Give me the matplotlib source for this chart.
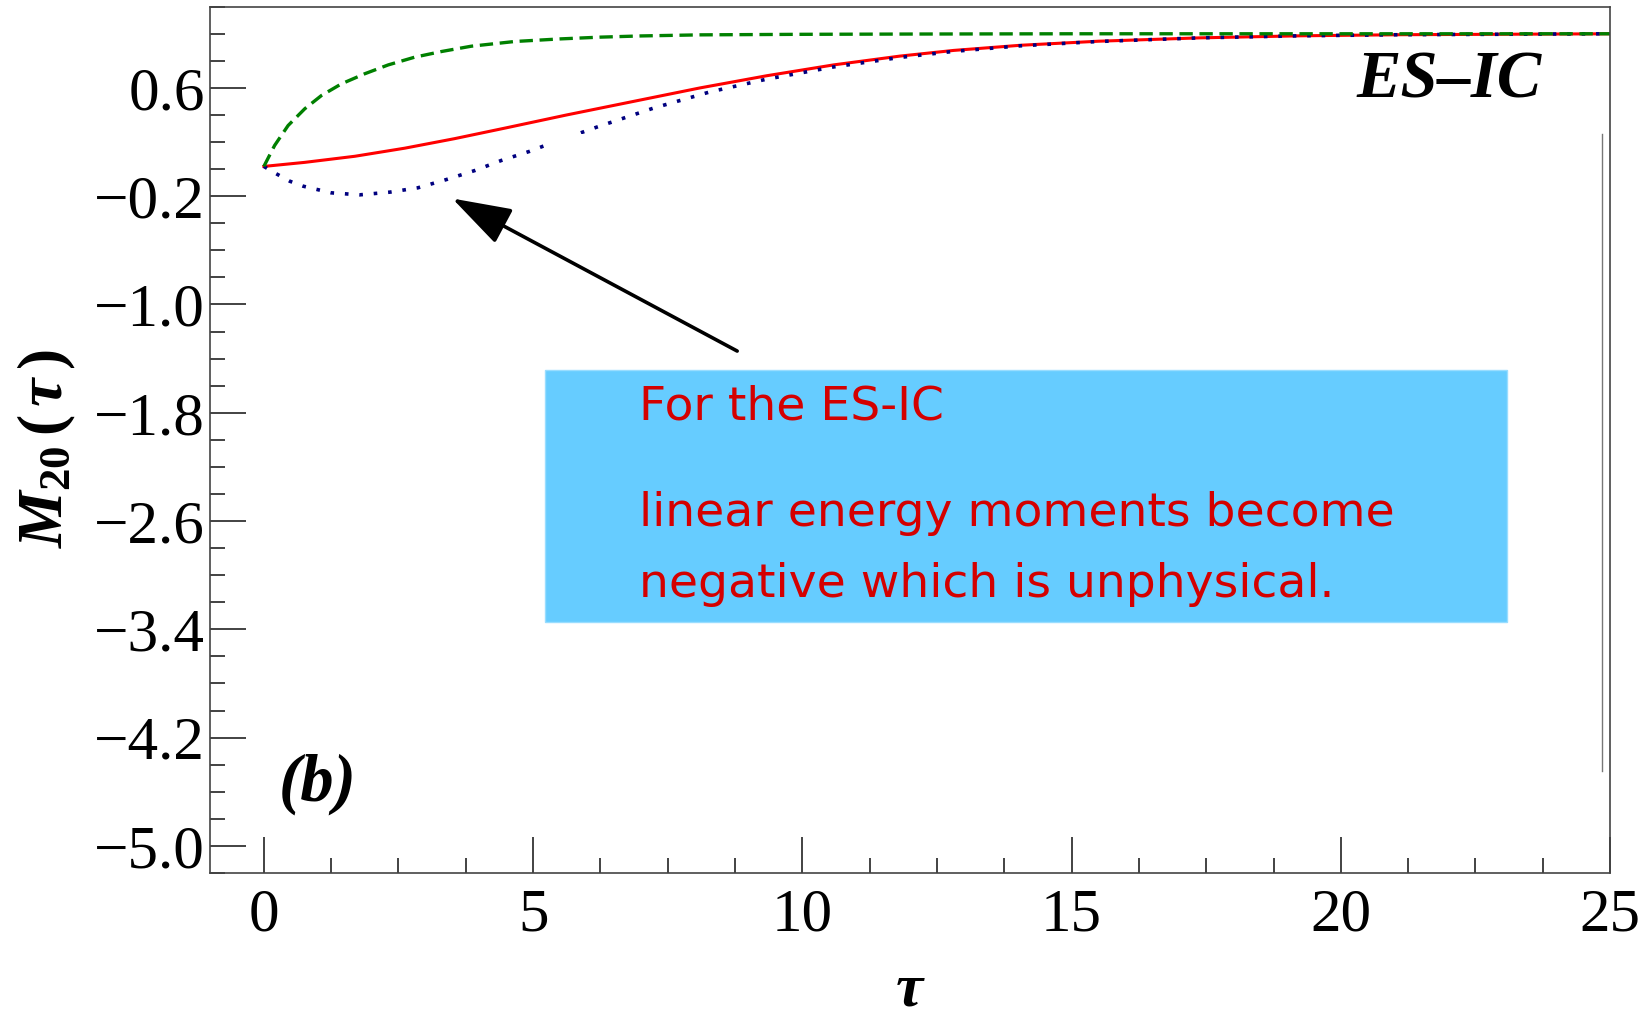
import matplotlib
matplotlib.use("Agg")
import matplotlib.pyplot as plt
from matplotlib.ticker import MultipleLocator, FixedLocator, FuncFormatter
from matplotlib.patches import Rectangle

plt.rcParams['font.family'] = 'Liberation Serif'
plt.rcParams['mathtext.fontset'] = 'custom'
plt.rcParams['mathtext.it'] = 'Liberation Serif:bold:italic'
plt.rcParams['mathtext.rm'] = 'Liberation Serif:bold'
plt.rcParams['mathtext.bf'] = 'Liberation Serif:bold'

# значения
tau_green = [0, 0.2, 0.45, 0.76, 1.07, 1.44, 1.87, 2.31, 2.8, 3.3, 3.85, 4.66, 5.5, 6.24, 7.0, 8.1,
             10.0, 12.0, 15.0, 25.0]
m_green = [0.02, 0.175, 0.322, 0.446, 0.544, 0.63, 0.704, 0.77, 0.827, 0.869, 0.908, 0.943, 0.962,
           0.975, 0.984, 0.992, 0.996, 0.998, 1.0, 1.0]

tau_red = [0, 0.76, 1.69, 2.62, 3.54, 4.5, 5.62, 6.86, 8.1, 9.34, 10.58, 11.81, 12.81, 14.05, 15.5,
           17.4, 19.25, 21.1, 25.0]
m_red = [0.02, 0.05, 0.095, 0.155, 0.225, 0.305, 0.40, 0.50, 0.60, 0.69, 0.77, 0.835, 0.877,
         0.915, 0.945, 0.97, 0.985, 0.993, 1.0]

tau_blue = [0, 0.23, 0.48, 0.73, 1.25, 1.78, 2.34, 2.86, 3.39, 3.92, 4.41, 4.94, 5.19, 6.18, 7.23,
            8.28, 9.34, 10.58, 11.81, 12.81, 14.05, 15.5, 17.4, 19.25, 21.1, 25.0]
m_blue = [0.02, -0.034, -0.089, -0.126, -0.175, -0.19, -0.17, -0.138, -0.077, -0.01, 0.064, 0.132,
          0.17, 0.31, 0.45, 0.57, 0.665, 0.755, 0.825, 0.87, 0.911, 0.943, 0.97, 0.985, 0.993, 1.0]

x_ticks = [0, 5, 10, 15, 20, 25]
y_ticks = [-5.0, -4.2, -3.4, -2.6, -1.8, -1.0, -0.2, 0.6]

note_lines = ["For the ES-IC", "linear energy moments become", "negative which is unphysical."]
note_y = [-1.85, -2.64, -3.16]

fig = plt.figure(figsize=(16.51, 10.15), dpi=100)
ax = fig.add_axes([0.1272, 0.1399, 0.848, 0.8535])

ax.plot(tau_red, m_red, color='#ff0000', lw=2.2, zorder=2)
ax.plot(tau_blue, m_blue, color='#000080', lw=2.6, dashes=(1, 3), zorder=2)
ax.plot(tau_green, m_green, color='#008000', lw=2.4, dashes=(4, 2), zorder=2)

# белая подложка с серой правой границей
ax.add_patch(Rectangle((5.22, -4.447), 24.85 - 5.22, 0.26 + 4.447,
                       facecolor='white', edgecolor='none', zorder=2.5))
ax.plot([24.85, 24.85], [0.258, -4.447], color='#777777', lw=1.0, zorder=2.6)

# голубой блок с надписью
ax.add_patch(Rectangle((5.22, -3.343), 23.08 - 5.22, -1.484 + 3.343,
                       facecolor='#66ccff', edgecolor='#99ddff', lw=1, zorder=3))
for line, yy in zip(note_lines, note_y):
    ax.text(6.96, yy, line, color='#d40000', fontsize=34, family='DejaVu Sans',
            va='baseline', ha='left', zorder=4)

ax.annotate('', xy=(3.5, -0.217), xytext=(8.79, -1.344),
            arrowprops=dict(arrowstyle='-|>,head_length=0.92,head_width=0.3',
                            mutation_scale=40, color='black', lw=2.6,
                            shrinkA=0, shrinkB=0), zorder=5)

ax.text(22.02, 0.53, 'ES–IC', fontsize=48, fontweight='bold', fontstyle='italic',
        ha='center', va='baseline', zorder=5)
ax.text(1.0, -4.663, '(b)', fontsize=48, fontweight='bold', fontstyle='italic',
        ha='center', va='baseline', zorder=5)

ax.set_xlim(-1, 25)
ax.set_ylim(-5.2, 1.2)

ax.xaxis.set_major_locator(FixedLocator(x_ticks))
ax.xaxis.set_minor_locator(MultipleLocator(1.25))
ax.yaxis.set_major_locator(FixedLocator(y_ticks))
ax.yaxis.set_minor_locator(MultipleLocator(0.2))
ax.xaxis.set_major_formatter(FuncFormatter(lambda v, p: f'{v:.0f}'))
ax.yaxis.set_major_formatter(FuncFormatter(lambda v, p: f'{v:.1f}'.replace('-', '\u2212')))

ax.tick_params(which='both', direction='in', top=False, right=False, color='#222222', width=1.2)
ax.tick_params(which='major', length=26, labelsize=44)
ax.tick_params(which='minor', length=11)
ax.tick_params(axis='y', pad=3.5)
ax.tick_params(axis='x', pad=11)

for s in ax.spines.values():
    s.set_color('#444444')
    s.set_linewidth(1.2)

ax.set_xlabel(r'$\tau$', fontsize=44)
ax.xaxis.set_label_coords(0.5, -0.104)
ax.set_ylabel(r'$M_{\mathit{20}}\,(\,\tau\,)$', fontsize=46)
ax.yaxis.set_label_coords(-0.094, 0.49)

fig.savefig('out.png', dpi=100)
